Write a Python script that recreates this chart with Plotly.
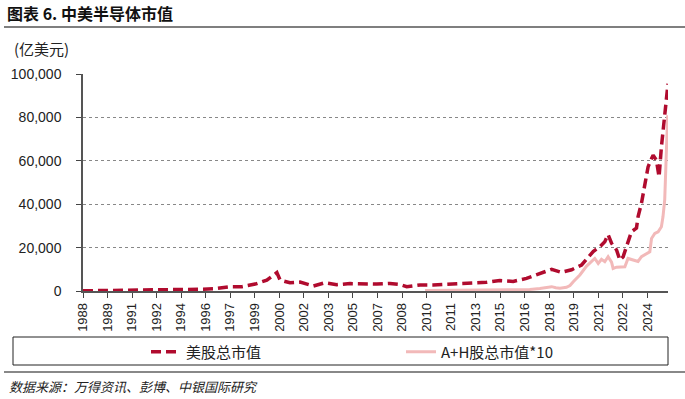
import plotly.graph_objects as go

# ---------------- data ----------------
us_year = [1988.30, 1989.40, 1990.68, 1991.95, 1993.22, 1994.50, 1995.13, 1995.77, 1996.62, 1997.69,
           1998.43, 1999.28, 2000.02, 2000.66, 2000.87, 2001.50, 2002.14, 2002.57, 2002.99, 2003.73,
           2004.48, 2005.33, 2006.17, 2007.03, 2007.87, 2008.51, 2008.94, 2009.79, 2010.63, 2011.49,
           2012.33, 2013.18, 2014.03, 2014.88, 2015.73, 2016.58, 2017.43, 2018.18, 2018.81, 2019.45,
           2020.09, 2020.83, 2021.25, 2021.57, 2021.78, 2022.00, 2022.32, 2022.53, 2022.74, 2023.05,
           2023.27, 2023.59, 2023.69, 2023.91, 2024.12, 2024.33, 2024.55, 2024.65, 2024.86, 2025.03,
           2025.18, 2025.28, 2025.39, 2025.50, 2025.60]
us_cap = [100, 150, 200, 300, 350, 500, 600, 800, 1000, 2000,
          2000, 3200, 5000, 8500, 5000, 3800, 4100, 3200, 2300, 3800,
          2900, 3400, 3200, 3200, 3500, 3000, 2000, 2800, 2800, 3100,
          3200, 3400, 4000, 4800, 4400, 5800, 7900, 10000, 8600, 9800,
          12000, 18200, 20400, 22700, 26000, 22000, 18900, 14300, 15800, 21900,
          27300, 29000, 34200, 40500, 49500, 57200, 61000, 62600, 60300, 52600,
          66400, 74100, 81000, 89400, 95500]

ah_year = [2010.11, 2011.06, 2012.33, 2013.61, 2014.88, 2015.84, 2016.79, 2017.43, 2017.86, 2018.18,
           2018.45, 2018.71, 2019.13, 2019.35, 2019.56, 2019.98, 2020.41, 2020.72, 2020.93, 2021.15,
           2021.36, 2021.57, 2021.78, 2022.00, 2022.10, 2022.32, 2022.53, 2022.85, 2023.05, 2023.37,
           2023.69, 2023.91, 2024.23, 2024.44, 2024.55, 2024.76, 2024.97, 2025.18, 2025.28, 2025.39,
           2025.50, 2025.58]
ah_cap_x10 = [200, 300, 300, 400, 500, 600, 700, 1200, 1700, 2000,
              1500, 1300, 1700, 2500, 4300, 7400, 11500, 13500, 15000, 12700,
              14600, 13500, 15800, 13300, 10400, 11000, 11200, 11200, 15000, 14300,
              13600, 15800, 17000, 18100, 24200, 26500, 27300, 29600, 34200, 42000,
              65000, 81000]

tick_labels = ["1988", "1989", "1991", "1992", "1994", "1996", "1997", "1999", "2000", "2002",
               "2003", "2005", "2007", "2008", "2010", "2011", "2013", "2015", "2016", "2018",
               "2019", "2021", "2022", "2024"]
tick_start, tick_step = 1988.30, 1.565
tick_vals = [tick_start + i * tick_step for i in range(len(tick_labels))]

# ---------------- layout helpers ----------------
W, H = 685, 399
L, R, T, B = 83, 17, 74, 108
PW, PH = W - L - R, H - T - B


def px(x):
    return (x - L) / PW


def py(y):
    return (H - B - y) / PH


RED = "#B00B2E"
PINK = "#F2B9B9"
FONT = "Liberation Sans, Arial, sans-serif"
CJK = "Noto Sans CJK SC"

fig = go.Figure()
fig.add_trace(go.Scatter(x=us_year, y=us_cap, mode="lines", name="美股总市值",
                         line=dict(color=RED, width=3.5, dash="10px,5px")))
fig.add_trace(go.Scatter(x=ah_year, y=ah_cap_x10, mode="lines", name="A+H股总市值*10",
                         line=dict(color=PINK, width=3)))

fig.update_layout(
    width=W, height=H,
    margin=dict(l=L, r=R, t=T, b=B),
    paper_bgcolor="white", plot_bgcolor="white",
    font=dict(family=FONT, color="#222"),
    showlegend=True,
    legend=dict(orientation="h", x=px(146), xanchor="left", y=py(352), yanchor="middle",
                entrywidth=210, font=dict(family=CJK, size=15, color="#222"),
                bgcolor="rgba(0,0,0,0)", borderwidth=0, itemclick=False),
    xaxis=dict(range=[1988.3, 2025.6], tickmode="array", tickvals=tick_vals, ticktext=tick_labels,
               tickangle=-90, tickfont=dict(family=FONT, size=13, color="#222"),
               ticks="outside", ticklen=5, tickcolor="#444", showline=True, linecolor="#555",
               linewidth=1.5, showgrid=False, zeroline=False),
    yaxis=dict(range=[0, 100000], tickvals=[0, 20000, 40000, 60000, 80000, 100000],
               tickformat=",d", tickfont=dict(family=FONT, size=14, color="#222"),
               ticks="outside", ticklen=5, tickcolor="#444", showline=True, linecolor="#555",
               linewidth=1.5, showgrid=True, gridcolor="#888", griddash="dot", gridwidth=1,
               zeroline=False, ticklabelstandoff=12),
)

shapes = [
    # title underline
    dict(type="line", xref="paper", yref="paper", x0=px(4), x1=px(685), y0=py(27), y1=py(27),
         line=dict(color="#555", width=1.5)),
    # legend frame
    dict(type="rect", xref="paper", yref="paper", x0=px(13), x1=px(668), y0=py(337), y1=py(365),
         line=dict(color="#222", width=1)),
    # line above source
    dict(type="line", xref="paper", yref="paper", x0=px(4), x1=px(685), y0=py(372), y1=py(372),
         line=dict(color="#888", width=2)),
]
fig.update_layout(shapes=shapes)

annotations = [
    dict(text="<b>图表 6. 中美半导体市值</b>", x=px(5), y=py(13), xanchor="left", yanchor="middle",
         font=dict(family=CJK, size=16, color="#111")),
    dict(text="(亿美元)", x=px(12), y=py(48), xanchor="left", yanchor="middle",
         font=dict(family=CJK, size=15, color="#222")),
    dict(text="<i>数据来源：万得资讯、彭博、中银国际研究</i>", x=px(7), y=py(386), xanchor="left",
         yanchor="middle", font=dict(family=CJK, size=13, color="#222")),
]
for a in annotations:
    a.update(xref="paper", yref="paper", showarrow=False)
fig.update_layout(annotations=annotations)

fig.write_html("out.html")
